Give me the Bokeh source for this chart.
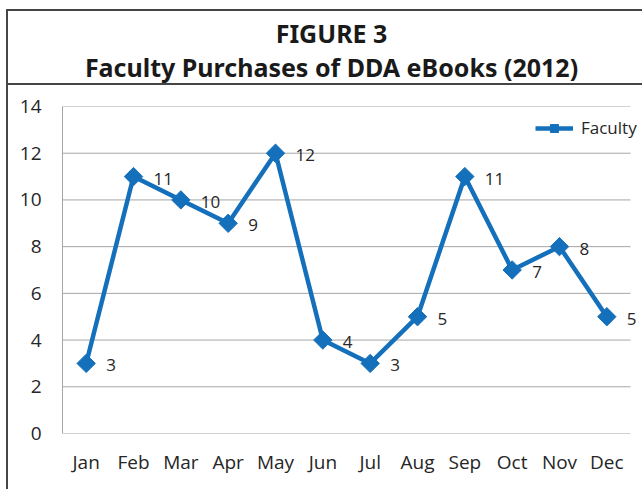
import math
from bokeh.plotting import figure
from bokeh.layouts import column
from bokeh.models import (ColumnDataSource, FixedTicker, LabelSet, Label, Legend, LegendItem)
from bokeh.core.properties import value
from bokeh.embed import file_html
from bokeh.resources import INLINE

months = ["Jan", "Feb", "Mar", "Apr", "May", "Jun", "Jul", "Aug", "Sep", "Oct", "Nov", "Dec"]
faculty = [3, 11, 10, 9, 12, 4, 3, 5, 11, 7, 8, 5]
y_ticks = [0, 2, 4, 6, 8, 10, 12, 14]
title_line1 = "FIGURE 3"
title_line2 = "Faculty Purchases of DDA eBooks (2012)"
series_name = "Faculty"

BLUE = "#1570bb"
FONT = "Open Sans"
TXT = "#262626"
BORDER = "#454545"
GRID = "#a6a6a6"

W = 642
LEFT = 62
TITLE_H = 90
MAIN_H = 489 - TITLE_H


def line_css(*rects):
    parts = [f"linear-gradient({BORDER},{BORDER}) {x}px {y}px / {w}px {h}px no-repeat"
             for x, y, w, h in rects]
    return ", ".join(parts) + ", #ffffff"


# ---------------- title box ----------------
# frame aligned with the chart frame below (62..642); data units = canvas pixels
tf = figure(width=W, height=TITLE_H, x_range=(LEFT, W), y_range=(TITLE_H, 0),
            x_axis_type=None, y_axis_type=None, output_backend="svg",
            toolbar_location=None, min_border_left=LEFT, min_border_right=0,
            min_border_top=0, min_border_bottom=0)
tf.grid.visible = False
tf.outline_line_color = None
tf.background_fill_alpha = 0
tf.border_fill_alpha = 0
tf.styles = {"background": line_css((6, 9, 2, TITLE_H), (6, 9, W, 2), (6, 83, W, 2))}
tf.add_layout(Label(x=331, y=32, text=title_line1, text_align="center",
                    text_baseline="middle", text_font="Noto Sans",
                    text_font_style="bold", text_font_size="25px", text_color="#1a1a1a"))
tf.add_layout(Label(x=331, y=66, text=title_line2, text_align="center",
                    text_baseline="middle", text_font="Noto Sans",
                    text_font_style="bold", text_font_size="25px", text_color="#1a1a1a"))

# ---------------- chart ----------------
xpos = [i + 0.5 for i in range(len(months))]
n_cat = len(months)

src = ColumnDataSource(dict(x=xpos, v=faculty, t=[str(v) for v in faculty]))
grid_src = ColumnDataSource(dict(x0=[0] * len(y_ticks), x1=[n_cat] * len(y_ticks), y=y_ticks))

# frame 62..642 (categories occupy 62..630)
p = figure(width=W, height=MAIN_H, x_range=(0, n_cat * 580 / 568), y_range=(0, 14),
           output_backend="svg", toolbar_location=None,
           min_border_left=LEFT, min_border_right=0, min_border_top=106 - TITLE_H,
           min_border_bottom=56)
p.outline_line_color = None
p.background_fill_color = "white"
p.border_fill_alpha = 0
p.styles = {"background": line_css((6, 0, 2, MAIN_H))}

p.xaxis.ticker = FixedTicker(ticks=xpos)
p.xaxis.major_label_overrides = {x: m for x, m in zip(xpos, months)}
p.yaxis.ticker = FixedTicker(ticks=y_ticks)
for ax in (p.xaxis[0], p.yaxis[0]):
    ax.major_tick_in = 0
    ax.major_tick_out = 0
    ax.minor_tick_in = 0
    ax.minor_tick_out = 0
    ax.axis_line_color = None
    ax.major_label_text_font = FONT
    ax.major_label_text_font_size = "19px"
    ax.major_label_text_color = TXT
p.yaxis.axis_line_color = GRID
p.yaxis.major_label_standoff = 21
p.xaxis.major_label_standoff = 15
p.xgrid.grid_line_color = None
p.ygrid.grid_line_color = None

# horizontal gridlines (incl. x axis line at 0) over the category span only
p.segment(x0="x0", x1="x1", y0="y", y1="y", source=grid_src, line_color=GRID, line_width=1)

r_line = p.line("x", "v", source=src, line_color=BLUE, line_width=4.5)
r_pts = p.scatter("x", "v", source=src, marker="square", angle=math.pi / 4, size=13,
                  fill_color=BLUE, line_color=BLUE)

labels = LabelSet(x="x", y="v", text="t", source=src, x_offset=20, y_offset=-2,
                  text_align="left", text_baseline="middle", text_font=value(FONT),
                  text_font_size="17px", text_color=TXT)
p.add_layout(labels)

legend = Legend(items=[LegendItem(label=series_name, renderers=[r_line, r_pts])],
                location=(473, 294), padding=0, margin=0, glyph_width=38,
                label_text_font=FONT, label_text_font_size="17px",
                label_text_color=TXT, border_line_color=None,
                background_fill_alpha=0, label_standoff=8)
p.add_layout(legend)

layout = column(tf, p, spacing=0)
open("out.html", "w").write(file_html(layout, INLINE))
